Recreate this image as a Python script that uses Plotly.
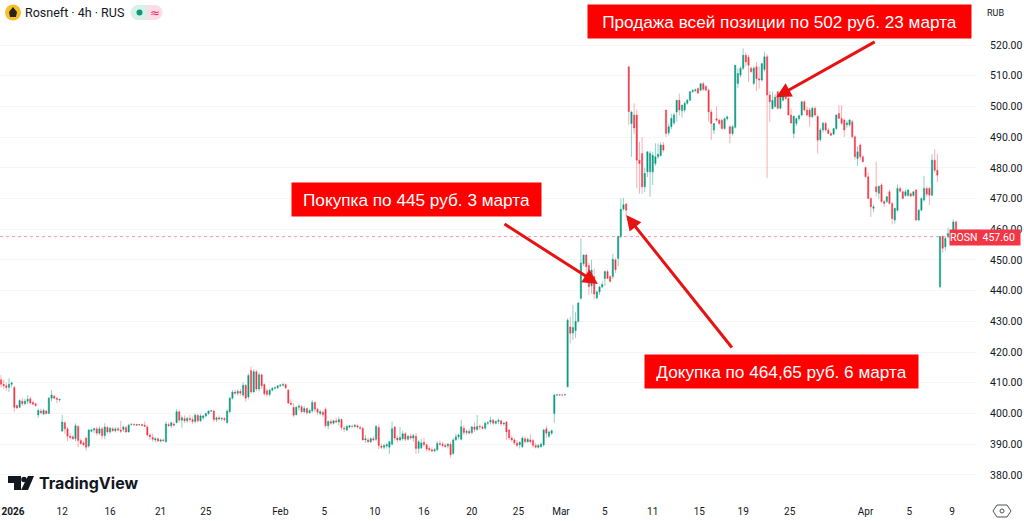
import plotly.graph_objects as go

# 4h candles
opens = [
    411.0, 409.5, 409.0, 408.5, 409.5, 408.5, 402.6, 402.0, 404.0, 403.2,
    404.0, 404.8, 403.6, 403.2, 399.5, 400.8, 399.8, 400.8, 400.0, 405.0,
    405.6, 405.0, 404.4, 394.3, 397.0, 395.0, 392.6, 392.4, 391.8, 395.8,
    391.2, 390.4, 392.0, 389.4, 394.2, 394.6, 395.0, 393.6, 395.0, 392.8,
    395.4, 394.0, 395.0, 394.4, 395.0, 394.6, 394.8, 395.4, 394.0, 396.4,
    396.5, 396.4, 396.3, 396.4, 396.2, 395.6, 393.0, 392.2, 391.4, 391.8,
    391.0, 391.4, 390.8, 396.4, 396.0, 396.6, 397.0, 400.6, 397.8, 398.4,
    397.6, 398.4, 398.0, 397.4, 399.4, 397.6, 398.6, 399.2, 400.0, 400.8,
    400.8, 398.0, 398.6, 398.2, 398.4, 397.0, 400.6, 405.0, 407.0, 406.6,
    407.2, 406.0, 409.2, 405.4, 414.0, 407.0, 413.6, 408.0, 412.6, 409.4,
    407.4, 406.2, 407.6, 408.2, 408.4, 409.0, 409.2, 409.4, 407.6, 403.4,
    402.0, 399.6, 402.0, 402.2, 400.6, 401.6, 400.2, 400.8, 403.6, 401.4,
    400.0, 400.4, 401.4, 396.0, 397.4, 396.8, 397.6, 397.2, 398.0, 395.2,
    394.6, 395.6, 395.8, 395.8, 396.0, 395.4, 395.2, 391.4, 391.4, 390.8,
    391.8, 391.6, 395.4, 389.4, 389.0, 389.4, 389.0, 390.0, 395.6, 392.0,
    391.4, 391.8, 393.4, 391.6, 392.6, 392.0, 392.6, 388.6, 388.8, 390.6,
    389.8, 388.6, 388.2, 387.8, 388.2, 390.2, 390.0, 389.6, 389.4, 390.0,
    387.0, 391.4, 392.4, 391.6, 395.2, 393.8, 394.2, 393.8, 395.6, 394.8,
    395.8, 395.6, 395.2, 396.8, 397.2, 397.8, 396.8, 397.4, 397.6, 396.6,
    397.2, 394.6, 392.0, 391.4, 390.4, 389.8, 389.2, 391.8, 390.8, 391.4,
    391.2, 389.6, 389.0, 389.2, 389.8, 395.0, 392.6, 393.6, 400.0, 406.0,
    406.1, 406.0, 406.0, 408.7, 428.2, 426.2, 427.0, 430.0, 437.5, 448.8,
    451.6, 448.2, 441.6, 444.6, 437.6, 439.6, 441.2, 444.0, 446.2, 444.6,
    444.6, 450.0, 450.5, 457.6, 466.6, 468.2, 512.9, 494.4, 497.2, 497.2,
    482.5, 484.7, 473.8, 478.7, 478.7, 478.7, 481.4, 483.6, 484.0, 487.4,
    498.8, 491.4, 493.4, 494.6, 498.2, 502.0, 498.6, 498.8, 501.0, 502.0,
    504.8, 505.2, 505.8, 505.3, 507.4, 506.5, 505.3, 498.2, 492.3, 496.0,
    495.5, 495.5, 492.8, 496.0, 493.4, 491.2, 493.2, 507.5, 510.2, 512.4,
    516.7, 516.0, 512.4, 507.5, 512.9, 509.0, 508.6, 512.0, 516.2, 503.7,
    499.3, 500.0, 504.8, 499.4, 502.0, 503.0, 502.6, 497.2, 491.2, 494.4,
    496.0, 497.2, 501.5, 498.8, 498.8, 496.6, 499.4, 496.7, 489.2, 492.3,
    494.5, 492.3, 491.2, 491.0, 492.8, 497.7, 496.1, 495.6, 494.0, 494.0,
    495.0, 490.1, 483.0, 487.4, 483.6, 480.1, 477.1, 470.0, 466.8, 473.8,
    471.7, 474.4, 469.0, 469.0, 472.2, 468.4, 463.0, 466.2, 473.3, 472.2,
    471.0, 471.0, 471.6, 471.0, 472.8, 463.0, 466.2, 469.5, 473.3, 473.3,
    471.1, 482.5, 479.2, 441.3, 457.6, 454.3, 457.6, 458.6, 458.6, 462.4,
]
highs = [
    412.5, 411.0, 410.0, 411.5, 410.0, 409.0, 403.0, 404.6, 405.0, 404.8,
    406.0, 405.5, 404.2, 403.6, 401.6, 401.6, 401.6, 401.2, 405.4, 407.6,
    406.0, 405.4, 404.8, 399.6, 397.6, 395.6, 393.6, 393.0, 396.8, 396.2,
    391.8, 391.0, 392.5, 395.0, 395.0, 395.4, 395.6, 395.8, 395.6, 396.8,
    396.0, 395.6, 395.6, 395.4, 395.6, 397.6, 396.0, 396.0, 396.6, 396.7,
    396.7, 396.7, 396.6, 396.7, 397.4, 396.2, 393.6, 393.4, 392.2, 392.2,
    391.8, 391.8, 397.4, 397.0, 397.4, 397.2, 401.4, 401.0, 399.4, 399.4,
    398.8, 399.6, 399.0, 400.0, 399.8, 399.8, 399.6, 400.2, 401.0, 401.2,
    401.2, 399.0, 399.4, 398.8, 398.8, 401.4, 405.4, 407.6, 407.8, 407.8,
    408.0, 410.2, 409.6, 413.0, 415.3, 414.4, 414.2, 413.4, 413.0, 409.8,
    408.0, 408.0, 408.6, 408.8, 409.2, 409.6, 410.0, 409.8, 408.0, 404.6,
    403.4, 402.4, 403.0, 402.8, 402.4, 402.0, 401.4, 404.4, 404.0, 401.8,
    401.2, 401.0, 402.0, 397.8, 398.2, 398.0, 398.6, 399.0, 398.4, 396.0,
    396.2, 396.2, 396.4, 396.6, 396.4, 396.0, 395.6, 393.0, 392.2, 392.2,
    392.6, 396.2, 396.4, 390.2, 390.2, 390.4, 391.0, 397.4, 396.0, 392.8,
    395.6, 394.4, 394.0, 393.0, 393.4, 393.4, 393.6, 391.4, 391.8, 392.0,
    390.2, 389.4, 389.0, 388.8, 391.0, 391.2, 390.8, 390.4, 390.4, 390.8,
    392.0, 393.4, 393.4, 398.0, 396.2, 394.8, 395.0, 396.0, 397.0, 399.5,
    396.4, 396.2, 397.4, 397.6, 399.0, 398.2, 397.8, 398.4, 398.0, 397.2,
    397.6, 395.0, 392.8, 392.0, 391.4, 391.0, 392.6, 392.6, 392.2, 393.2,
    391.8, 390.4, 390.0, 390.6, 395.0, 396.0, 394.4, 394.8, 406.4, 406.2,
    406.2, 406.2, 406.2, 431.0, 431.5, 435.3, 433.0, 436.2, 457.0, 451.8,
    452.0, 449.0, 450.0, 447.2, 440.0, 441.6, 443.0, 446.6, 446.8, 445.0,
    452.0, 450.6, 458.0, 470.0, 470.2, 468.6, 513.2, 498.6, 501.0, 499.0,
    488.5, 490.0, 480.0, 485.4, 485.5, 485.2, 488.0, 488.0, 488.4, 488.4,
    499.0, 494.4, 497.6, 498.0, 502.0, 504.2, 500.6, 501.6, 502.4, 505.0,
    505.6, 505.8, 506.2, 507.6, 508.0, 507.0, 505.8, 499.0, 494.6, 500.0,
    496.0, 496.0, 496.4, 497.0, 493.9, 494.0, 513.5, 512.4, 513.0, 518.9,
    517.6, 516.8, 513.0, 513.2, 514.4, 513.0, 514.0, 517.8, 517.0, 505.0,
    504.8, 504.0, 505.0, 503.4, 503.4, 503.4, 503.0, 499.3, 497.0, 496.4,
    497.4, 501.8, 502.0, 500.0, 499.6, 500.0, 500.0, 497.3, 493.0, 495.0,
    495.0, 493.0, 491.6, 493.0, 497.4, 500.4, 500.4, 496.0, 495.4, 495.8,
    495.6, 490.6, 487.0, 488.0, 484.0, 480.4, 478.4, 470.4, 468.0, 482.0,
    474.2, 475.0, 469.6, 470.8, 473.0, 469.0, 467.0, 474.6, 474.0, 472.6,
    472.8, 473.0, 472.0, 472.4, 473.0, 466.6, 470.4, 477.4, 474.0, 473.8,
    484.4, 486.0, 484.6, 457.8, 458.0, 457.7, 460.6, 459.6, 463.2, 462.8,
]
lows = [
    408.5, 408.0, 407.5, 407.0, 408.5, 400.5, 401.5, 401.8, 402.5, 402.6,
    403.0, 402.8, 402.8, 402.2, 398.6, 399.8, 399.5, 399.6, 399.8, 404.0,
    404.6, 403.4, 403.8, 394.0, 393.4, 391.0, 391.6, 391.4, 391.0, 389.0,
    389.8, 389.4, 387.9, 388.8, 393.8, 393.6, 392.8, 393.0, 391.6, 391.6,
    393.4, 393.4, 394.0, 393.8, 394.2, 393.6, 394.0, 393.6, 393.8, 396.1,
    396.2, 396.1, 396.0, 396.0, 395.6, 392.4, 391.4, 390.8, 390.6, 390.8,
    390.6, 390.8, 390.4, 395.6, 395.2, 395.8, 396.8, 397.0, 395.4, 397.0,
    397.0, 397.2, 396.6, 396.8, 397.0, 397.2, 398.0, 398.8, 399.6, 400.4,
    397.2, 397.2, 397.8, 397.6, 397.4, 396.8, 400.0, 404.6, 406.0, 405.8,
    405.8, 405.4, 403.8, 404.6, 406.4, 406.8, 407.2, 407.2, 408.0, 405.8,
    405.6, 405.6, 407.2, 407.8, 408.0, 408.6, 408.8, 408.0, 403.0, 402.6,
    398.8, 399.4, 401.0, 400.0, 400.0, 399.6, 400.0, 400.2, 400.4, 399.6,
    399.4, 398.8, 395.4, 394.8, 396.2, 396.4, 396.8, 396.0, 394.6, 394.0,
    394.2, 395.2, 395.4, 395.4, 395.2, 394.8, 391.2, 390.4, 390.4, 390.4,
    391.0, 391.0, 388.4, 388.4, 388.2, 388.6, 386.8, 389.6, 391.2, 390.6,
    391.0, 391.2, 391.0, 391.2, 391.4, 390.8, 386.8, 387.0, 388.4, 389.2,
    387.6, 387.6, 387.4, 387.4, 387.8, 389.4, 389.0, 388.8, 388.6, 385.6,
    386.6, 391.0, 391.6, 391.2, 393.0, 393.0, 393.2, 393.2, 394.0, 394.4,
    394.6, 394.8, 394.8, 396.2, 396.4, 396.2, 396.4, 396.6, 396.0, 396.0,
    391.4, 391.4, 390.8, 389.8, 389.0, 388.6, 388.8, 390.2, 390.4, 390.2,
    388.8, 388.6, 388.6, 388.8, 389.2, 392.0, 392.0, 393.0, 397.0, 405.8,
    405.9, 405.8, 405.9, 408.5, 422.8, 424.0, 424.6, 429.6, 437.0, 448.0,
    444.0, 438.6, 439.0, 437.2, 437.2, 438.6, 440.8, 441.5, 444.0, 442.6,
    443.8, 445.8, 448.0, 457.0, 466.0, 464.6, 493.9, 483.6, 491.0, 473.3,
    471.6, 471.5, 472.0, 477.0, 470.6, 474.4, 480.6, 482.8, 483.6, 485.0,
    490.0, 490.6, 492.6, 494.0, 495.0, 497.0, 496.4, 498.0, 500.6, 501.8,
    504.4, 504.6, 504.0, 505.0, 505.0, 505.0, 495.0, 489.0, 491.0, 495.0,
    494.0, 492.4, 492.4, 495.4, 488.0, 490.6, 492.8, 506.0, 509.5, 511.8,
    513.0, 508.0, 511.0, 507.0, 505.0, 505.8, 508.0, 511.4, 476.6, 495.0,
    499.0, 499.6, 499.0, 499.0, 501.6, 502.0, 497.0, 494.4, 489.6, 493.6,
    495.4, 496.8, 498.4, 496.8, 493.4, 496.2, 496.8, 484.7, 488.5, 491.5,
    491.8, 491.0, 490.4, 490.6, 492.3, 496.0, 494.0, 490.0, 493.0, 493.4,
    489.6, 482.6, 480.6, 482.6, 481.8, 476.8, 469.8, 464.0, 465.6, 470.6,
    470.0, 468.6, 467.4, 468.6, 468.0, 461.6, 461.8, 465.8, 472.0, 469.8,
    470.6, 470.6, 470.4, 470.6, 462.6, 462.6, 466.0, 469.0, 470.6, 467.8,
    470.8, 478.5, 475.4, 440.8, 452.4, 453.0, 457.0, 457.8, 458.0, 457.4,
]
closes = [
    409.5, 409.0, 408.5, 409.5, 410.0, 402.0, 401.8, 404.2, 403.2, 404.0,
    404.6, 403.4, 403.0, 402.6, 401.0, 400.2, 401.0, 400.0, 405.0, 406.0,
    405.0, 404.6, 404.6, 397.2, 395.0, 392.6, 392.2, 391.8, 396.0, 391.2,
    390.2, 389.8, 389.0, 394.6, 394.6, 395.0, 393.6, 395.0, 392.8, 395.6,
    394.0, 395.2, 394.4, 395.0, 394.6, 394.2, 395.6, 394.0, 396.2, 396.5,
    396.3, 396.2, 396.4, 396.1, 395.8, 393.0, 392.4, 391.6, 391.8, 391.0,
    391.4, 391.2, 396.6, 396.0, 397.0, 396.2, 400.6, 397.8, 398.6, 397.6,
    398.4, 398.0, 397.4, 399.4, 397.6, 399.2, 399.2, 400.0, 400.8, 400.9,
    398.0, 398.6, 398.2, 398.4, 398.0, 400.8, 405.0, 407.0, 406.6, 407.2,
    406.6, 409.2, 405.0, 412.4, 407.0, 413.6, 408.0, 412.6, 409.0, 406.4,
    406.2, 407.6, 408.2, 408.4, 409.0, 409.2, 409.4, 408.4, 403.4, 403.0,
    399.4, 402.0, 402.4, 400.6, 401.6, 400.2, 401.0, 403.6, 401.4, 400.4,
    400.6, 399.6, 396.0, 397.4, 396.8, 397.6, 397.2, 398.0, 395.4, 395.0,
    395.8, 396.0, 395.8, 396.2, 395.6, 395.2, 391.4, 391.8, 390.8, 391.8,
    391.4, 395.8, 389.6, 389.0, 389.6, 389.8, 390.8, 395.0, 392.0, 391.4,
    392.2, 393.4, 391.6, 392.6, 392.0, 392.8, 388.6, 390.8, 390.4, 389.8,
    388.4, 388.2, 387.8, 388.2, 390.2, 390.0, 389.6, 389.2, 390.0, 386.6,
    391.4, 392.4, 393.0, 395.7, 393.8, 394.2, 393.6, 395.6, 394.8, 395.8,
    395.6, 395.2, 396.8, 397.0, 397.8, 396.8, 397.4, 397.8, 396.6, 396.8,
    394.0, 392.0, 391.4, 390.4, 389.6, 390.6, 392.0, 390.8, 391.6, 390.8,
    389.6, 389.0, 389.6, 390.0, 394.6, 393.6, 394.0, 394.4, 406.0, 406.1,
    406.0, 406.0, 406.1, 430.4, 426.1, 428.0, 430.0, 436.0, 449.0, 451.6,
    447.8, 441.3, 446.7, 438.9, 439.6, 441.2, 442.0, 446.2, 444.0, 443.0,
    450.2, 446.8, 457.6, 466.5, 468.0, 466.2, 498.3, 498.2, 493.0, 482.5,
    481.4, 473.8, 478.2, 485.2, 484.7, 484.1, 483.6, 484.4, 487.4, 485.8,
    491.2, 493.4, 496.1, 497.2, 502.0, 498.8, 500.4, 501.0, 502.0, 504.8,
    505.2, 505.4, 504.4, 507.4, 505.6, 505.3, 498.2, 494.4, 494.4, 495.5,
    494.4, 492.8, 496.0, 496.6, 491.2, 493.4, 513.4, 510.7, 512.4, 516.7,
    514.5, 513.4, 511.3, 512.4, 509.0, 508.6, 514.0, 516.2, 503.7, 501.5,
    502.0, 503.0, 499.4, 503.0, 503.2, 502.6, 497.2, 494.6, 496.8, 496.0,
    497.0, 501.5, 498.8, 497.2, 496.6, 499.4, 497.2, 489.0, 492.3, 494.5,
    492.3, 491.2, 490.6, 492.8, 497.2, 496.1, 494.5, 492.3, 494.6, 495.6,
    490.1, 483.6, 485.2, 483.6, 482.0, 477.1, 470.0, 467.3, 467.3, 472.2,
    474.0, 469.0, 468.4, 470.6, 468.4, 463.5, 466.8, 473.3, 472.4, 470.0,
    472.2, 472.8, 470.8, 472.2, 463.0, 466.2, 470.0, 473.3, 471.4, 471.1,
    482.5, 479.2, 477.6, 457.6, 453.8, 457.0, 458.6, 458.2, 462.4, 457.6,
]

price_ticks = [380, 390, 400, 410, 420, 430, 440, 450, 460, 470, 480, 490, 500, 510, 520]
date_labels = ['<b>2026</b>', '12', '16', '21', '25', 'Feb', '5', '10', '16', '20', '25',
               'Mar', '5', '11', '15', '19', '25', 'Apr', '5', '9']
date_ticks = [4.5, 23, 41, 60, 77, 105, 121.5, 140.5, 159, 177, 194.5,
              210.5, 227, 245, 262.5, 279, 296.5, 325, 341.5, 357.5]

last_price = closes[-1]

# (tip x, tip price, tail x, tail price)
arrow_buy = (224.4, 442.2, 188.7, 462.0)
arrow_add = (235.0, 464.6, 275.2, 421.0)
arrow_sell = (291.4, 503.0, 329.0, 521.3)

PLOT_W = 977
PLOT_H = 497
UP = '#089981'
DOWN = '#f23645'
FONT = 'Roboto'


def px_x(x):
    return x / PLOT_W


def px_y(y):
    return 1 - y / PLOT_H


def px_rect(x0, y0, x1, y1, color):
    return dict(type='rect', xref='paper', yref='paper', x0=px_x(x0), x1=px_x(x1),
                y0=px_y(y0), y1=px_y(y1), fillcolor=color, line=dict(width=0), layer='above')


def px_path(points, color, line=None):
    d = 'M ' + ' L '.join(f'{px_x(a):.5f},{px_y(b):.5f}' for a, b in points) + ' Z'
    return dict(type='path', xref='paper', yref='paper', path=d, fillcolor=color,
                line=dict(color=line or color, width=1 if line else 0), layer='above')


def px_circle(cx, cy, r, color, line=None):
    return dict(type='circle', xref='paper', yref='paper', x0=px_x(cx - r), x1=px_x(cx + r),
                y0=px_y(cy - r), y1=px_y(cy + r), fillcolor=color, layer='above',
                line=dict(color=line or color, width=1 if line else 0))


def px_text(x, y, text, size, color, anchor='left', family=FONT):
    return dict(xref='paper', yref='paper', x=px_x(x), y=px_y(y), text=text, showarrow=False,
                xanchor=anchor, yanchor='middle', font=dict(size=size, color=color, family=family))


def callout(x0, y0, x1, y1, text):
    return dict(xref='paper', yref='paper', x=px_x((x0 + x1) / 2), y=px_y((y0 + y1) / 2),
                text=text, showarrow=False, width=x1 - x0, height=y1 - y0, bgcolor='#ff0000',
                borderpad=0, xanchor='center', yanchor='middle',
                font=dict(size=17.2, color='white', family='Liberation Sans'))


def price_tag(x0, x1, text):
    return dict(xref='paper', yref='paper', x=px_x((x0 + x1) / 2), y=px_y(237.5), text=text,
                showarrow=False, width=x1 - x0, height=15, bgcolor=DOWN, borderpad=0,
                xanchor='center', yanchor='middle', font=dict(size=10.5, color='white', family=FONT))


def arrow(a):
    return dict(x=a[0], y=a[1], ax=a[2], ay=a[3], xref='x', yref='y', axref='x', ayref='y',
                text='', showarrow=True, arrowhead=2, arrowsize=1, arrowwidth=3, arrowcolor='#e81212')


fig = go.Figure(go.Candlestick(
    x=list(range(len(closes))), open=opens, high=highs, low=lows, close=closes,
    increasing=dict(line=dict(color='rgba(8,153,129,0.5)', width=0.9), fillcolor=UP),
    decreasing=dict(line=dict(color='rgba(242,54,69,0.45)', width=0.9), fillcolor=DOWN),
    whiskerwidth=0,
))

shapes = [
    dict(type='line', xref='paper', yref='y', x0=0, x1=950 / PLOT_W, y0=last_price, y1=last_price,
         line=dict(color=DOWN, width=1, dash='dot'), opacity=0.5),
    # header icon and status pill
    px_circle(13, 12.5, 8, '#f5c02c'),
    px_path([(13, 7), (17, 12), (16, 17), (10, 17), (9, 12)], '#2a2418'),
    px_circle(138, 12.5, 7.5, '#d9f0e8'),
    px_circle(155, 12.5, 7.5, '#fbdde8'),
    px_rect(138, 5, 147, 20, '#d9f0e8'),
    px_rect(147, 5, 155, 20, '#fbdde8'),
    px_circle(139.5, 12.5, 3, UP),
    # TradingView logo
    px_path([(8, 476), (21, 476), (21, 490), (14, 490), (14, 483), (8, 483)], '#131722'),
    px_circle(24, 479.5, 2.8, '#131722'),
    px_path([(28, 476), (34, 476), (28, 490), (21, 490)], '#131722'),
    # settings gear
    px_path([(997, 505), (1007, 505), (1011, 511), (1007, 517), (997, 517), (993, 511)], 'white', '#50535e'),
    px_circle(1002, 511, 2, 'white', '#50535e'),
]

annotations = [
    arrow(arrow_buy),
    arrow(arrow_add),
    arrow(arrow_sell),
    callout(588, 5, 971, 38, 'Продажа всей позиции по 502 руб. 23 марта'),
    callout(292, 183, 541, 216, 'Покупка по 445 руб. 3 марта'),
    callout(645, 355, 918, 388, 'Докупка по 464,65 руб. 6 марта'),
    price_tag(950, 977.5, 'ROSN'),
    price_tag(978.5, 1020, '457.60'),
    px_text(23, 12.5, 'Rosneft · 4h · RUS', 12.5, '#131722'),
    px_text(155, 12.5, '≈', 12, '#e91e63', 'center', 'DejaVu Sans'),
    px_text(37, 483, '<b>TradingView</b>', 16, '#131722', family='Inter'),
    px_text(995, 12.5, 'RUB', 9, '#131722', 'center'),
]

fig.update_layout(
    width=1024, height=521, autosize=False,
    margin=dict(l=0, r=47, t=0, b=24),
    paper_bgcolor='white', plot_bgcolor='white',
    showlegend=False,
    shapes=shapes, annotations=annotations,
    font=dict(family=FONT, color='#131722', size=10),
)
fig.update_xaxes(
    range=[-0.38, 366.9], rangeslider_visible=False, showgrid=False, zeroline=False,
    tickmode='array', tickvals=date_ticks, ticktext=date_labels,
    ticks='outside', ticklen=5, tickcolor='rgba(0,0,0,0)', tickfont=dict(size=10, color='#131722'),
)
fig.update_yaxes(
    range=[372.8, 534.66], side='right', gridcolor='#f5f6f8', gridwidth=1, zeroline=False,
    tickmode='array', tickvals=price_ticks, tickformat='.2f',
    ticks='outside', ticklen=10, tickcolor='rgba(0,0,0,0)', tickfont=dict(size=10.5, color='#131722'),
)

# the page's default body margin would shift the chart by 8px
fig.write_html("out.html", config={'displayModeBar': False},
               post_script="document.body.style.margin='0';")
